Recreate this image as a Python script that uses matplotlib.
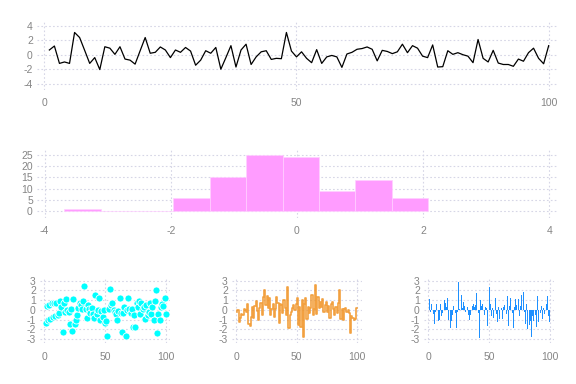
import matplotlib
matplotlib.use("Agg")
import matplotlib.pyplot as plt
import numpy as np

plt.rcParams['font.family'] = ['Liberation Sans', 'DejaVu Sans']
plt.rcParams['axes.unicode_minus'] = False

# ---- data ----
line_y = [0.65, 1.2, -1.2, -1.0, -1.2, 3.07, 2.37, 0.6, -1.2, -0.4,
          -2.05, 1.1, 0.9, 0.05, 1.1, -0.6, -0.75, -1.3, 0.55, 2.37,
          0.2, 0.33, 1.07, 0.65, -0.4, 0.65, 0.33, 1.0, 0.5, -1.45,
          -0.75, 0.55, 0.2, 1.0, -2.0, -0.4, 1.25, -1.7, 0.65, 1.45,
          -1.35, -0.3, 0.4, 0.55, -0.65, -0.5, -0.55, 3.07, 0.5, -0.3,
          0.4, -0.5, -1.1, 0.7, -1.2, -0.3, -0.1, -0.3, -1.75, 0.1,
          0.33, 0.75, 0.85, 1.07, 0.75, -0.85, 0.6, 0.45, 0.15, 0.4,
          1.45, 0.28, 1.25, 0.9, -0.2, -0.4, 1.35, -1.7, -1.65, 0.55,
          0.05, 0.28, 0.0, -0.2, -1.1, 2.1, -0.5, -1.0, 0.6, -1.15,
          -1.35, -1.35, -1.6, -0.6, -0.9, 0.28, 0.9, -0.5, -1.25, 1.25]

hist_edges = [-3.69, -3.113, -2.536, -1.959, -1.382, -0.805, -0.228, 0.349, 0.926, 1.503, 2.08]
hist_counts = [1, 0, 0, 6, 15, 25, 24, 9, 14, 6]

scatter_y = [-1.4, 0.4, -1.0, 0.5, -0.9, 0.65, -0.7, 0.75, -0.6, 0.7,
             -0.5, -0.3, 0.95, 0.3, -2.3, 0.7, -0.2, 1.1, 0.0, -0.25,
             -1.5, 0.1, -2.2, 1.1, -1.5, -1.0, -0.55, 0.2, 0.7, 0.5,
             0.1, 0.9, 2.5, 0.05, -0.8, 0.45, 0.1, -0.3, 0.15, -0.45,
             -0.8, 1.5, -0.45, 0.0, 1.25, -1.0, -0.1, -0.7, 0.0, -1.35,
             -1.2, -2.7, 0.1, 2.1, 0.5, 0.65, 0.0, -0.2, -0.4, -1.05,
             -0.1, 1.2, -0.3, -2.25, -0.3, 0.3, -2.7, 0.0, 1.2, 0.1,
             -0.3, 0.1, -1.75, -0.5, -1.8, 0.65, 0.25, 0.9, -0.4, 0.65,
             0.05, 0.3, -0.9, 0.5, -0.5, -0.25, 0.65, -0.4, 0.3, -1.1,
             0.9, 2.0, -2.35, -0.45, -1.05, 0.3, 0.6, 0.4, 1.2, -0.45]

step_y = [-0.2, 0.0, -1.3, -0.8, -0.4, -0.5, 0.1, 0.0, -0.2, 0.6,
          -1.5, -1.7, -0.7, 0.3, -0.8, 0.4, 0.9, -0.1, -1.0, 0.2,
          0.7, -0.5, 1.3, 2.0, 0.5, 1.4, 0.2, 1.2, -0.5, 0.1,
          0.6, -0.7, 0.1, 1.3, 0.7, -1.4, 0.55, 0.5, -0.3, 1.0,
          0.2, -0.5, 2.4, -1.9, -0.5, -0.2, 0.2, 0.5, 0.0, 0.6,
          1.2, -1.6, 0.3, -1.8, 1.0, -2.8, 0.6, 1.2, -0.9, 0.3,
          -0.3, 0.2, 1.5, -0.5, 0.1, 2.6, -0.4, 1.35, 0.2, 0.8,
          0.3, 1.1, -0.2, 0.5, 0.8, -0.2, 0.4, -0.8, 0.6, 0.8,
          0.1, -0.5, 0.3, -0.3, 0.7, 2.0, -0.9, 0.1, -1.1, 0.1,
          0.2, -0.2, 0.0, -0.3, -2.4, -0.6, -0.8, -1.1, -0.9, 0.2]

bar_y = [1.1, -0.2, 0.6, -0.4, -1.5, -0.2, 0.6, -1.15, -1.1, 0.6,
         -0.6, -0.3, 1.0, 0.7, 0.3, 1.2, -1.0, -1.9, -1.2, -0.5,
         0.4, -0.3, -1.9, -0.2, 2.9, 0.1, 1.5, 0.2, 0.8, 0.4,
         -0.2, 0.3, -0.5, -1.05, -0.5, 0.4, 0.6, 0.3, 0.5, 1.7,
         -0.3, -2.9, 1.0, 0.4, 0.6, -0.5, 0.3, 0.2, -1.7, 2.4,
         0.6, -0.6, 0.2, -0.8, 1.25, -0.4, -1.3, 0.3, -0.9, 0.2,
         -0.9, 0.3, 0.5, -0.4, 1.4, -1.7, 0.4, 1.2, -0.3, -1.9,
         0.3, 1.1, 0.5, 1.1, -0.6, 0.4, 1.5, 1.8, -0.2, -1.5,
         0.6, -2.0, -1.6, -1.2, -2.8, -0.6, -1.2, -0.5, -1.8, 1.4,
         -1.3, -0.3, 0.4, -0.9, 0.2, -0.4, 0.6, 1.4, -0.6, -1.3]

xs = np.arange(1, len(line_y) + 1)

# ---- styling ----
W, H = 576, 384
fig = plt.figure(figsize=(W / 100, H / 100), dpi=100)
grid_kw = dict(color='#d6d6e6', linestyle=(0, (1.5, 2)), linewidth=0.8)
label_color = '#858585'

def frac(l, t, r, b):
    return [l / W, 1 - b / H, (r - l) / W, (b - t) / H]

def style(ax, xticks, yticks, xlim, ylim):
    ax.set_xlim(*xlim)
    ax.set_ylim(*ylim)
    ax.set_xticks(xticks)
    ax.set_yticks(yticks)
    ax.set_xticklabels([str(t) for t in xticks])
    ax.set_yticklabels([str(t) for t in yticks])
    for s in ax.spines.values():
        s.set_visible(False)
    ax.grid(True, **grid_kw)
    ax.set_axisbelow(True)
    ax.tick_params(length=0, labelsize=7.5, colors=label_color, pad=3)
    ax.tick_params(axis='x', pad=6)

# top line plot
ax1 = fig.add_axes(frac(37, 20, 557, 90))
ax1.plot(xs, line_y, color='black', linewidth=0.9)
style(ax1, [0, 50, 100], [-4, -2, 0, 2, 4], (-1.45, 101.65), (-4.87, 4.79))

# histogram
ax2 = fig.add_axes(frac(37, 148, 557, 218))
ax2.bar(hist_edges[:-1], hist_counts, width=np.diff(hist_edges), align='edge',
        color='#ff9cff', edgecolor='#ffd0ff', linewidth=0.5)
style(ax2, [-4, -2, 0, 2, 4], [0, 5, 10, 15, 20, 25], (-4.12, 4.12), (-3.1, 28.1))

# scatter
ax3 = fig.add_axes(frac(40, 276.7, 170, 343.3))
ax3.scatter(xs, scatter_y, s=26, color='#00ffff', edgecolors='white', linewidths=0.6, zorder=3)
style(ax3, [0, 50, 100], [-3, -2, -1, 0, 1, 2, 3], (-3.54, 103.5), (-3.45, 3.41))

# step
ax4 = fig.add_axes(frac(232, 276.7, 361.5, 343.3))
ax4.step(xs, step_y, where='pre', color='#f0901e', linewidth=1.2, alpha=0.85)
style(ax4, [0, 50, 100], [-3, -2, -1, 0, 1, 2, 3], (-3.54, 103.5), (-3.45, 3.41))

# bars
ax5 = fig.add_axes(frac(424, 276.7, 554, 343.3))
ax5.bar(xs, bar_y, width=0.8, color='#1e90ff', linewidth=0, zorder=3)
style(ax5, [0, 50, 100], [-3, -2, -1, 0, 1, 2, 3], (-3.54, 103.5), (-3.45, 3.41))

fig.savefig('out.png', dpi=100)
